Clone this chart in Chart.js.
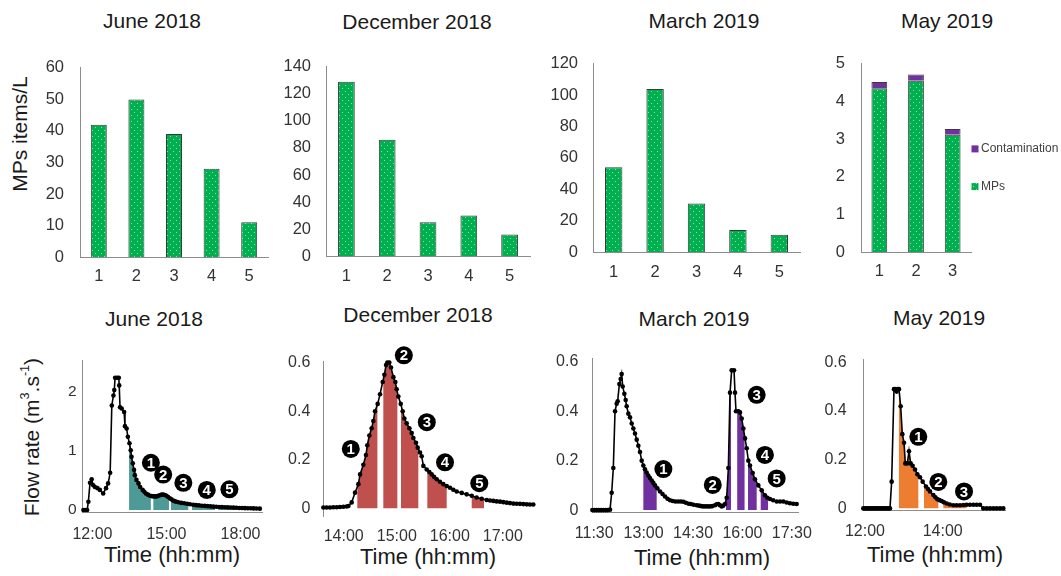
<!DOCTYPE html>
<html><head><meta charset="utf-8">
<script src="https://cdn.jsdelivr.net/npm/chart.js@4.4.0/dist/chart.umd.min.js"></script>
<style>
html,body{margin:0;padding:0;background:#fff;}
body{width:1061px;height:576px;position:relative;overflow:hidden;font-family:"Liberation Sans",Arial,sans-serif;color:#1a1a1a;}
canvas{position:absolute;}
.t{position:absolute;white-space:nowrap;line-height:1;transform:translate(-50%,-50%);}
.yt{position:absolute;white-space:nowrap;line-height:1;transform:translate(-50%,-50%) rotate(-90deg);}
sup{font-size:0.6em;line-height:0;vertical-align:0.75em;}
</style></head><body>
<div class="t" style="left:152px;top:19.5px;font-size:21px">June 2018</div>
<div class="t" style="left:417px;top:20.5px;font-size:21px">December 2018</div>
<div class="t" style="left:704px;top:19.5px;font-size:21px">March 2019</div>
<div class="t" style="left:947px;top:20px;font-size:21px">May 2019</div>
<div class="t" style="left:154px;top:318px;font-size:21px">June 2018</div>
<div class="t" style="left:418px;top:313.5px;font-size:21px">December 2018</div>
<div class="t" style="left:694px;top:318px;font-size:21px">March 2019</div>
<div class="t" style="left:939px;top:317px;font-size:21px">May 2019</div>
<div class="yt" style="left:19px;top:134px;font-size:21px">MPs items/L</div>
<div class="yt" style="left:31px;top:437px;font-size:21px">Flow rate (m<sup>3</sup>.s<sup>-1</sup>)</div>
<div class="t" style="left:172px;top:555px;font-size:22px">Time (hh:mm)</div>
<div class="t" style="left:428px;top:556.5px;font-size:22px">Time (hh:mm)</div>
<div class="t" style="left:702px;top:557.5px;font-size:22px">Time (hh:mm)</div>
<div class="t" style="left:935px;top:555px;font-size:22px">Time (hh:mm)</div>
<script>
// ---------------- DATA ----------------
const samples5 = ['1','2','3','4','5'];
const samples3 = ['1','2','3'];
const jun18Mps = [42, 50, 39, 28, 11];
const dec18Mps = [129, 86, 25, 30, 16];
const mar19Mps = [54, 104, 31, 14, 11];
const may19Mps = [4.35, 4.55, 3.12];
const may19Contamination = [0.17, 0.17, 0.15];
const barTicksJun = [0,10,20,30,40,50,60];
const barTicksDec = [0,20,40,60,80,100,120,140];
const barTicksMar = [0,20,40,60,80,100,120];
const barTicksMay = [0,1,2,3,4,5];

// flow readings: [minutes after midnight, m3/s]
const jun18Flow = [[698,0],[702,0],[707,0],[710,0.14],[714,0.46],[718,0.52],[722,0.42],[726,0.39],[732,0.37],[738,0.34],[746,0.28],[753,0.37],[758,0.45],[763,0.63],[767,1.77],[771,1.94],[773,2.03],[775,2.24],[780,2.24],[784,2.24],[785,2.11],[787,1.74],[791,1.72],[797,1.66],[799,1.42],[803,1.38],[806,1.24],[810,1.13],[813,1.01],[815,0.9],[818,0.79],[821,0.68],[823,0.59],[827,0.51],[832,0.45],[836,0.39],[842,0.34],[846,0.31],[850,0.28],[855,0.26],[860,0.24],[864,0.235],[868,0.23],[872,0.23],[876,0.23],[880,0.24],[884,0.25],[888,0.26],[892,0.26],[896,0.255],[900,0.24],[904,0.22],[908,0.2],[912,0.18],[916,0.16],[920,0.15],[924,0.14],[929,0.13],[936,0.12],[943,0.113],[950,0.105],[957,0.097],[965,0.088],[972,0.082],[979,0.078],[986,0.073],[993,0.069],[1000,0.065],[1007,0.061],[1014,0.057],[1021,0.054],[1028,0.051],[1035,0.048],[1042,0.046],[1049,0.044],[1056,0.042],[1063,0.04],[1070,0.037],[1077,0.035],[1084,0.033],[1091,0.031],[1098,0.03],[1105,0.029],[1112,0.027],[1119,0.025],[1127,0.023]];
const dec18Flow = [[817,0.004],[820.7,0.004],[824.5,0.004],[828.3,0.005],[832.1,0.005],[835.8,0.006],[839.6,0.007],[843.4,0.008],[845.3,0.01],[849,0.025],[852.8,0.065],[856.6,0.1],[858.5,0.14],[862.2,0.18],[865.2,0.22],[866.7,0.26],[869,0.3],[871.6,0.33],[873.5,0.36],[875.4,0.4],[878.4,0.43],[881.1,0.47],[884.1,0.52],[886,0.55],[887.9,0.59],[889.4,0.6],[891.6,0.6],[893.5,0.58],[896.2,0.54],[898.4,0.52],[899.9,0.49],[901.8,0.46],[904.5,0.43],[906.7,0.4],[908.6,0.37],[911.2,0.35],[914.3,0.33],[916.9,0.31],[918.8,0.29],[921.8,0.27],[923.7,0.25],[926.3,0.23],[928.2,0.215],[930.1,0.175],[933.9,0.16],[936.9,0.15],[939.5,0.14],[942.2,0.13],[945.2,0.12],[948.9,0.11],[952.7,0.1],[956.5,0.092],[960.3,0.085],[964,0.077],[967.8,0.07],[973.5,0.064],[979.1,0.058],[984.8,0.052],[990.4,0.045],[996.1,0.04],[1001.7,0.035],[1005.5,0.033],[1009.3,0.031],[1013,0.029],[1016.8,0.028],[1020.6,0.026],[1024.4,0.024],[1028.1,0.022],[1031.9,0.02],[1035.6,0.0195],[1039.4,0.019],[1043.2,0.018],[1047,0.017],[1050.7,0.0165],[1054.5,0.016]];
const mar19Flow = [[686.6,0],[690.5,0],[694.5,0],[698.5,0],[702.5,0],[706.5,0],[710.5,0],[714.5,0],[718.8,0.002],[721.8,0.07],[724.8,0.17],[727.9,0.4],[730.9,0.43],[732.7,0.44],[735.8,0.51],[738.2,0.53],[740,0.55],[741.9,0.5],[744.9,0.47],[747.3,0.445],[749.1,0.42],[752.2,0.39],[755.2,0.375],[758.3,0.35],[761.3,0.33],[764.3,0.31],[767.4,0.285],[770.4,0.26],[773.4,0.235],[776.5,0.2],[779.5,0.18],[782.5,0.165],[785.5,0.152],[788.6,0.14],[791.6,0.13],[794.7,0.12],[797.7,0.11],[800.8,0.1],[805,0.088],[809.9,0.075],[814.5,0.065],[819,0.055],[823.5,0.046],[828.1,0.04],[833,0.037],[838,0.035],[843,0.035],[848,0.035],[852.4,0.034],[857,0.03],[862,0.026],[866,0.025],[871,0.022],[876.7,0.02],[881,0.018],[885,0.016],[888.8,0.015],[893,0.015],[897,0.015],[901,0.015],[905,0.016],[910.1,0.02],[913,0.024],[916.2,0.025],[919,0.02],[922.2,0.015],[925,0.018],[928.3,0.025],[931.3,0.05],[934.4,0.17],[937.4,0.475],[940.4,0.565],[944.7,0.565],[946.5,0.475],[948.3,0.4],[952.6,0.4],[955.6,0.395],[958.7,0.37],[961.7,0.33],[964.7,0.29],[967.8,0.25],[970.8,0.2],[973.8,0.18],[978.7,0.15],[982.9,0.125],[989,0.1],[995.1,0.08],[1001.1,0.06],[1005.5,0.05],[1010.2,0.045],[1016,0.04],[1022.4,0.035],[1028.5,0.035],[1034.5,0.035],[1040.5,0.031],[1046.6,0.028],[1052.7,0.026],[1058.8,0.025]];
const may19Flow = [[717.4,0],[720,0],[722.6,0],[725.2,0],[727.7,0],[730.3,0],[732.9,0],[735.5,0],[738,0],[740.6,0],[743.2,0],[745.8,0],[748.3,0],[750.9,0],[753.5,0],[756,0],[758.6,0],[761.2,0.11],[764.8,0.49],[766.9,0.49],[768.9,0.48],[770.7,0.49],[772.5,0.49],[775.1,0.42],[777.7,0.305],[780.3,0.27],[782.3,0.185],[785.4,0.185],[788,0.235],[790.6,0.185],[793.6,0.175],[797.3,0.16],[800.9,0.14],[805,0.128],[809.1,0.11],[814.2,0.09],[817.3,0.08],[820.4,0.07],[825.6,0.055],[828.7,0.046],[831.8,0.038],[835,0.034],[838.5,0.03],[842,0.025],[846.2,0.02],[851,0.016],[856.5,0.013],[861.6,0.013],[866.8,0.013],[872,0.014],[877.1,0.015],[882.2,0.015],[887.4,0.015],[892.5,0.015],[897.7,0.015],[902.8,0],[908,0],[913.1,0],[918.3,0],[923.4,0],[928.6,0],[933.7,0]];

// sampling windows [start, end] (minutes after midnight)
const jun18Samples = [[809,862],[868,906],[911,953],[962,1018],[1026,1072]];
const dec18Samples = [[855.4,878.1],[884.8,900.7],[904.8,924.4],[934.6,956.5],[984.8,998.7]];
const mar19Samples = [[779.5,803.8],[930.1,939.2],[950.5,963.9],[970.2,986],[993.3,1006.7]];
const may19Samples = [[772.5,802.4],[811.2,833.3],[841,877.1]];
// numbered sample markers [time, flow]
const jun18Markers = [[862,0.80],[892,0.60],[941,0.46],[998,0.34],[1053,0.35]];
const dec18Markers = [[848,0.245],[908,0.63],[934,0.355],[954.6,0.19],[993.4,0.104]];
const mar19Markers = [[816,0.166],[906,0.102],[986,0.466],[1001,0.223],[1022.4,0.128]];
const may19Markers = [[802.4,0.294],[833.3,0.109],[873,0.07]];

const timeTicksJun = ['12:00','15:00','18:00'];
const timeTicksDec = ['14:00','15:00','16:00','17:00'];
const timeTicksMar = ['11:30','13:00','14:30','16:00','17:30'];
const timeTicksMay = ['12:00','14:00'];
const flowTicksJun = [0,1,2];
const flowTicksSmall = [0,0.2,0.4,0.6];

// ---------------- HELPERS ----------------
const FONT = '"Liberation Sans", Arial, sans-serif';
Chart.defaults.font.family = FONT;
Chart.defaults.color = '#333';
const AXIS = '#8c8c8c';
const hm = s => { const [h,m] = s.split(':').map(Number); return h*60+m; };

function setup(area, ext){
  const L = Math.round(area.l-ext.left), T = Math.round(area.t-ext.top);
  const W = Math.round(area.r+ext.right-L), H = Math.round(area.b+ext.bottom-T);
  const c = document.createElement('canvas');
  c.width = W; c.height = H;
  Object.assign(c.style,{left:L+'px',top:T+'px',width:W+'px',height:H+'px'});
  document.body.appendChild(c);
  return {c, padTop:area.t-T, padRight:W-(area.r-L), yw:area.l-L, xh:H-(area.b-T)};
}
function dotPattern(ctx){
  const p = document.createElement('canvas'); p.width = 6; p.height = 6;
  const g = p.getContext('2d');
  g.fillStyle = '#00b050'; g.fillRect(0,0,6,6);
  g.fillStyle = '#8fdcaa'; g.fillRect(1,1,1,1); g.fillRect(4,4,1,1);
  return ctx.createPattern(p,'repeat');
}
function baseOpts(s){
  return {responsive:false, animation:false, devicePixelRatio:1,
    layout:{padding:{left:0,top:s.padTop,right:s.padRight,bottom:0}},
    plugins:{legend:{display:false}, tooltip:{enabled:false}}};
}
function barChart(area, ext, cats, datasets, yMax, yTicks, yPad, xPad, extraPlugins){
  const s = setup(area, ext);
  const ctx = s.c.getContext('2d');
  const pat = dotPattern(ctx);
  const o = baseOpts(s);
  const stacked = datasets.length > 1;
  o.scales = {
    x:{type:'category', stacked, grid:{display:false,drawTicks:false}, border:{display:true,color:AXIS,width:1},
       ticks:{padding:xPad, font:{size:16.5}, color:'#333'}, afterFit:sc=>{sc.height=s.xh;}},
    y:{type:'linear', stacked, min:0, max:yMax, grid:{display:false,drawTicks:false}, border:{display:true,color:AXIS,width:1},
       afterBuildTicks:sc=>{sc.ticks=yTicks.map(v=>({value:v}));},
       ticks:{padding:yPad, font:{size:16.5}, color:'#333', callback:v=>String(v)}, afterFit:sc=>{sc.width=s.yw;}}
  };
  new Chart(s.c, {type:'bar', data:{labels:cats, datasets:datasets.map(d=>({
      label:d.label, data:d.data, backgroundColor:d.color==='pattern'?pat:d.color,
      borderColor:'#3a3a3a', borderWidth:1, categoryPercentage:1, barPercentage:d.bp}))},
    options:o, plugins:extraPlugins||[]});
}
function windowFill(windows, color){
  return {id:'windowFill', beforeDatasetsDraw(chart){
    const ctx = chart.ctx, pts = chart.getDatasetMeta(0).data;
    const xs = chart.scales.x, ys = chart.scales.y, y0 = ys.getPixelForValue(0), ca = chart.chartArea;
    ctx.save(); ctx.fillStyle = color;
    windows.forEach(([a,b])=>{
      const xa = xs.getPixelForValue(a), xb = xs.getPixelForValue(b);
      ctx.save(); ctx.beginPath(); ctx.rect(xa, ca.top, xb-xa, y0-ca.top); ctx.clip();
      ctx.beginPath(); ctx.moveTo(pts[0].x, y0);
      pts.forEach(p=>ctx.lineTo(p.x,p.y));
      ctx.lineTo(pts[pts.length-1].x, y0); ctx.closePath(); ctx.fill(); ctx.restore();
    });
    ctx.restore();
  }};
}
function sampleMarkers(markers, r){
  return {id:'sampleMarkers', afterDatasetsDraw(chart){
    const ctx = chart.ctx, xs = chart.scales.x, ys = chart.scales.y;
    ctx.save();
    markers.forEach(([t,v],i)=>{
      const px = xs.getPixelForValue(t), py = ys.getPixelForValue(v);
      ctx.beginPath(); ctx.arc(px,py,r,0,Math.PI*2); ctx.fillStyle='#000'; ctx.fill();
      ctx.fillStyle='#fff'; ctx.font='bold 15px '+FONT; ctx.textAlign='center'; ctx.textBaseline='middle';
      ctx.fillText(String(i+1), px, py+1);
    });
    ctx.restore();
  }};
}
function flowChart(area, ext, flow, xr, yr, timeTicks, yTicks, yFont, yPad, xPad, xBorder, windows, color, markers){
  const s = setup(area, ext);
  const o = baseOpts(s);
  const tickVals = timeTicks.map(hm);
  o.scales = {
    x:{type:'linear', min:xr[0], max:xr[1], grid:{display:false,drawTicks:false}, border:{display:xBorder,color:AXIS,width:1},
       afterBuildTicks:sc=>{sc.ticks=tickVals.map(v=>({value:v}));},
       ticks:{padding:xPad, font:{size:16}, color:'#333', autoSkip:false, maxRotation:0, callback:(v,i)=>timeTicks[i]},
       afterFit:sc=>{sc.height=s.xh;}},
    y:{type:'linear', min:yr[0], max:yr[1], grid:{display:false,drawTicks:false}, border:{display:true,color:AXIS,width:1},
       afterBuildTicks:sc=>{sc.ticks=yTicks.map(v=>({value:v}));},
       ticks:{padding:yPad, font:{size:yFont}, color:'#333', callback:v=>String(v)}, afterFit:sc=>{sc.width=s.yw;}}
  };
  new Chart(s.c, {type:'line', data:{datasets:[{data:flow.map(([t,v])=>({x:t,y:v})),
      borderColor:'#000', borderWidth:1.6, pointRadius:2.3, pointBackgroundColor:'#000', pointBorderWidth:0,
      tension:0, clip:6}]},
    options:o, plugins:[windowFill(windows,color), sampleMarkers(markers,9)]});
}
const sideLegend = {id:'sideLegend', afterDraw(chart){
  const ctx = chart.ctx, ca = chart.chartArea;
  const ds = chart.data.datasets;
  const rows = [{d:ds[1], dy:85}, {d:ds[0], dy:122.7}];
  ctx.save(); ctx.font = '12px '+FONT; ctx.textBaseline='middle'; ctx.textAlign='left';
  rows.forEach(r=>{
    const y = ca.top + r.dy;
    ctx.fillStyle = r.d.backgroundColor; ctx.fillRect(ca.right+0.5, y-3.5, 7, 7);
    ctx.fillStyle = '#404040'; ctx.fillText(r.d.label, ca.right+10, y);
  });
  ctx.restore();
}};

// ---------------- TOP ROW ----------------
barChart({l:80,t:57,r:268,b:257},{left:70,top:15,right:20,bottom:45}, samples5,
  [{label:'MPs', data:jun18Mps, color:'pattern', bp:0.425}], 60, barTicksJun, 16, 10);
barChart({l:326,t:57,r:530,b:256},{left:60,top:15,right:20,bottom:45}, samples5,
  [{label:'MPs', data:dec18Mps, color:'pattern', bp:0.41}], 140, barTicksDec, 15, 11);
barChart({l:593,t:54,r:800,b:252},{left:60,top:15,right:20,bottom:45}, samples5,
  [{label:'MPs', data:mar19Mps, color:'pattern', bp:0.42}], 120, barTicksMar, 15, 11);
barChart({l:861,t:53,r:971,b:252},{left:60,top:15,right:90,bottom:45}, samples3,
  [{label:'MPs', data:may19Mps, color:'pattern', bp:0.43},
   {label:'Contamination', data:may19Contamination, color:'#7030a0', bp:0.43}], 5, barTicksMay, 16, 10, [sideLegend]);

// ---------------- BOTTOM ROW ----------------
flowChart({l:82.7,t:360,r:262,b:512},{left:40,top:15,right:25,bottom:40}, jun18Flow,
  [696.2,1132.3],[-0.034,2.535], timeTicksJun, flowTicksJun, 15.5, 6, 13, true, jun18Samples, '#4e9a96', jun18Markers);
flowChart({l:323.3,t:354,r:535,b:516},{left:45,top:15,right:15,bottom:40}, dec18Flow,
  [816.9,1056.4],[-0.031,0.604], timeTicksDec, flowTicksSmall, 16, 13, 11, false, dec18Samples, '#c0504d', dec18Markers);
flowChart({l:592.3,t:350,r:798.3,b:512.3},{left:45,top:15,right:30,bottom:40}, mar19Flow,
  [686.5,1061.8],[-0.0088,0.6126], timeTicksMar, flowTicksSmall, 16, 14, 11.4, true, mar19Samples, '#7030a0', mar19Markers);
flowChart({l:863.3,t:348.3,r:1005,b:510},{left:45,top:15,right:30,bottom:40}, may19Flow,
  [717.4,936.3],[-0.0065,0.613], timeTicksMay, flowTicksSmall, 16, 16.6, 12, true, may19Samples, '#ed7d31', may19Markers);
</script>
</body></html>
